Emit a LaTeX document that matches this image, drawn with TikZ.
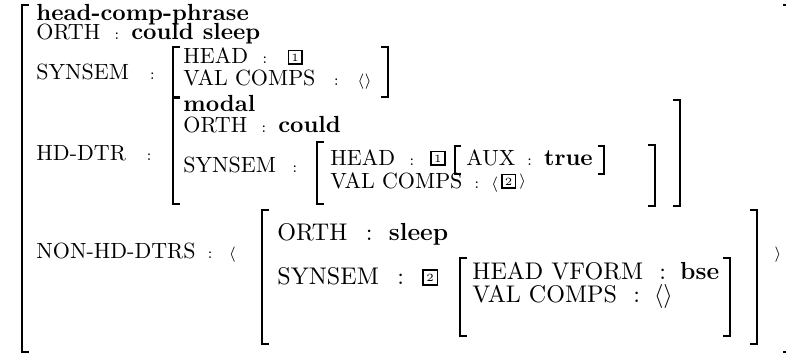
\documentclass[tikz,border=0pt]{standalone}
\usepackage{amsmath,amssymb}
\usepackage{tikz}
\usetikzlibrary{positioning}
\newcommand{\avmsz}{\fontsize{10}{12}\selectfont}
\newcommand{\avmbf}{\fontsize{10.6}{12}\selectfont\bfseries}
\newcommand{\avmbig}{\fontsize{10.95}{13}\selectfont}
\tikzset{
  every picture/.style={line cap=butt, line join=miter},
  lbl/.style={anchor=base west, inner sep=0pt, font=\avmsz},
  val/.style={lbl, font=\avmbf},
  lblbig/.style={anchor=base west, inner sep=0pt, font=\avmbig},
  valbig/.style={lblbig, font=\fontsize{11.2}{13}\selectfont\bfseries},
  col/.style={inner sep=0pt, font=\scriptsize},
  colbig/.style={inner sep=0pt, font=\avmbig},
  brk/.style={line width=0.9pt},
  tag/.style={draw, line width=0.8pt, inner sep=0pt, minimum size=6.2pt,
    font=\fontsize{5}{5}\selectfont, yshift=3pt},
}
\begin{document}
\begin{tikzpicture}[x=0.4545pt, y=-0.4545pt]
  \useasboundingbox (0,0) rectangle (786,354);
  % outer matrix
  \draw[brk] (29,5) -| (22,352) -- ++(7,0);
  \draw[brk] (783,5) -| (790,352) -- ++(-7,0);
  \node[val] (type) at (36,21) {head-comp-phrase};
  \node[lbl] (orth) at (36,40) {ORTH};
  \node[col, right=6pt of orth.base east, anchor=base west] (c1) {:};
  \node[val, right=5pt of c1.base east, anchor=base west] (orthv) {could sleep};

  % SYNSEM of the phrase
  \node[lbl] (syn) at (36,80) {SYNSEM};
  \node[col, right=9pt of syn.base east, anchor=base west] (c2) {:};
  \draw[brk] (180,47) -| (173,97) -- ++(7,0);
  \node[lbl] (head) at (183,64) {HEAD};
  \node[col, right=6pt of head.base east, anchor=base west] (c3) {:};
  \node[tag, right=9pt of c3.base east, anchor=west] (t1) {1};
  \node[lbl] (comps) at (183,86) {VAL COMPS};
  \node[col, right=8pt of comps.base east, anchor=base west] (c4) {:};
  \node[col, right=8pt of c4.base east, anchor=base west] (e1) {$\langle\rangle$};
  \draw[brk] (381,47) -| (388,97) -- ++(-7,0);

  % head daughter
  \node[lbl] (hd) at (36,160) {HD-DTR};
  \node[col, right=9pt of hd.base east, anchor=base west] (c5) {:};
  \draw[brk] (180,98) -| (173,204) -- ++(7,0);
  \node[val] (modal) at (183,112) {modal};
  \node[lbl] (orth2) at (183,133) {ORTH};
  \node[col, right=6pt of orth2.base east, anchor=base west] (c6) {:};
  \node[val, right=5pt of c6.base east, anchor=base west] (could) {could};
  \node[lbl] (syn2) at (183,173) {SYNSEM};
  \node[col, right=7pt of syn2.base east, anchor=base west] (c7) {:};
  \draw[brk] (324,142) -| (317,204) -- ++(7,0);
  \node[lbl] (head2) at (330,165) {HEAD};
  \node[col, right=6pt of head2.base east, anchor=base west] (c8) {:};
  \node[tag, right=7pt of c8.base east, anchor=west] (t1b) {1};
  \draw[brk] (461,146) -| (455,174) -- ++(6,0);
  \node[lbl] (aux) at (466,165) {AUX};
  \node[col, right=5pt of aux.base east, anchor=base west] (c9) {:};
  \node[val, right=5pt of c9.base east, anchor=base west] (true) {true};
  \draw[brk] (598,146) -| (604,174) -- ++(-6,0);
  \node[lbl] (comps2) at (330,188) {VAL COMPS};
  \node[col, right=5pt of comps2.base east, anchor=base west] (c10) {:};
  \node[col, right=5pt of c10.base east, anchor=base west] (la) {$\langle$};
  \node[tag, right=1pt of la.base east, anchor=west] (t2) {2};
  \node[col, right=1pt of t2.east, anchor=west] (ra) {$\rangle$};
  \draw[brk] (648,145) -| (655,206) -- ++(-7,0);
  \draw[brk] (673,100) -| (680,206) -- ++(-7,0);

  % non-head daughters
  \node[lbl] (nhd) at (36,258) {NON-HD-DTRS};
  \node[col, right=5pt of nhd.base east, anchor=base west] (c11) {:};
  \node[col, right=7pt of c11.base east, anchor=base west] (la2) {$\langle$};
  \draw[brk] (269,210) -| (262,344) -- ++(7,0);
  \node[lblbig] (orth3) at (277,240) {ORTH};
  \node[colbig, right=8pt of orth3.base east, anchor=base west] (c12) {:};
  \node[valbig, right=7pt of c12.base east, anchor=base west] (sleep) {sleep};
  \node[lblbig] (syn3) at (277,284) {SYNSEM};
  \node[colbig, right=8pt of syn3.base east, anchor=base west] (c13) {:};
  \node[tag, minimum size=6.6pt, right=8pt of c13.base east, anchor=west] (t2b) {2};
  \draw[brk] (467,258) -| (460,336) -- ++(7,0);
  \node[lblbig] (vf) at (472,279) {HEAD VFORM};
  \node[colbig, right=7pt of vf.base east, anchor=base west] (c14) {:};
  \node[valbig, right=6pt of c14.base east, anchor=base west] (bse) {bse};
  \node[lblbig] (comps3) at (472,302) {VAL COMPS};
  \node[colbig, right=7pt of comps3.base east, anchor=base west] (c15) {:};
  \node[lblbig, right=6pt of c15.base east, anchor=base west] (e2) {$\langle\rangle$};
  \draw[brk] (723,258) -| (730,336) -- ++(-7,0);
  \draw[brk] (750,210) -| (757,344) -- ++(-7,0);
  \node[col, anchor=base] (ra2) at (778,258) {$\rangle$};
\end{tikzpicture}
\end{document}
